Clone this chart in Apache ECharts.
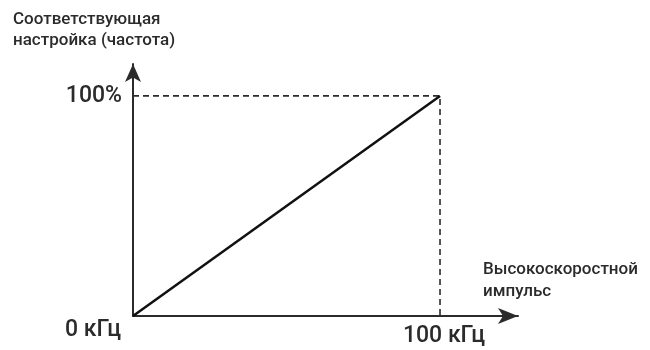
<!DOCTYPE html>
<html>
<head>
<meta charset="utf-8">
<script src="https://cdn.jsdelivr.net/npm/echarts@6/dist/echarts.min.js"></script>
<style>
  html, body { margin: 0; padding: 0; background: #fff; }
  #chart { width: 650px; height: 350px; }
</style>
</head>
<body>
<div id="chart"></div>
<script>
// Frequency setting as a function of the high-speed pulse input
const yTitle = ['Соответствующая', 'настройка (частота)'];
const xTitle = ['Высокоскоростной', 'импульс'];
const xTickValues = [0, 100];
const xTickLabels = ['0 кГц', '100 кГц'];
const yTickValues = [100];
const yTickLabels = ['100%'];
const pulse = [0, 100];        // input, kHz
const setting = [0, 100];      // output, %

const FONT = 'Roboto, "Noto Sans", sans-serif';
const INK = '#2b2b2b';

const chart = echarts.init(document.getElementById('chart'), null, { renderer: 'canvas' });

const lineData = pulse.map((x, i) => [x, setting[i]]);
const xEnd = pulse[pulse.length - 1];
const yEnd = setting[setting.length - 1];
const guideData = [[0, yEnd], [xEnd, yEnd], [xEnd, 0]];

const tickText = { fontFamily: FONT, fontSize: 23, fontWeight: 500, color: INK };

chart.setOption({
  animation: false,
  backgroundColor: '#fff',
  grid: { left: 133, right: 132, top: 64, bottom: 34, containLabel: false },
  xAxis: {
    type: 'value', min: 0, max: 125.4,
    splitLine: { show: false },
    axisTick: { show: false },
    axisLine: { show: true, symbol: ['none', 'arrow'], symbolSize: [12, 20],
      lineStyle: { color: INK, width: 2 } },
    axisLabel: {
      customValues: xTickValues,
      margin: 3,
      formatter: (v) => {
        const i = xTickValues.indexOf(v);
        return i === 0 ? '{a|' + xTickLabels[i] + '}' : '{b|' + xTickLabels[i] + '}';
      },
      rich: {
        a: Object.assign({ padding: [0, 80, 0, 0] }, tickText),
        b: Object.assign({ padding: [6, 0, 0, 8] }, tickText)
      }
    }
  },
  yAxis: {
    type: 'value', min: 0, max: 114.5,
    splitLine: { show: false },
    axisTick: { show: false },
    axisLine: { show: true, symbol: ['none', 'arrow'], symbolSize: [12, 18],
      lineStyle: { color: INK, width: 2 } },
    axisLabel: Object.assign({
      customValues: yTickValues,
      margin: 11,
      formatter: (v) => yTickLabels[yTickValues.indexOf(v)],
      padding: [14, 0, 0, 0]
    }, tickText)
  },
  graphic: [
    { type: 'text', left: 13, top: 9,
      style: { text: yTitle.join('\n'), font: '500 17px ' + FONT, fill: INK, lineHeight: 21 } },
    { type: 'text', left: 483, top: 259,
      style: { text: xTitle.join('\n'), font: '500 17px ' + FONT, fill: INK, lineHeight: 22 } }
  ],
  series: [
    {
      type: 'line', data: guideData, symbol: 'none', silent: true,
      lineStyle: { color: INK, width: 1.6, type: [6, 4] }
    },
    {
      type: 'line', data: lineData, symbol: 'none', silent: true,
      lineStyle: { color: '#111', width: 2.5 }
    }
  ]
});
</script>
</body>
</html>
